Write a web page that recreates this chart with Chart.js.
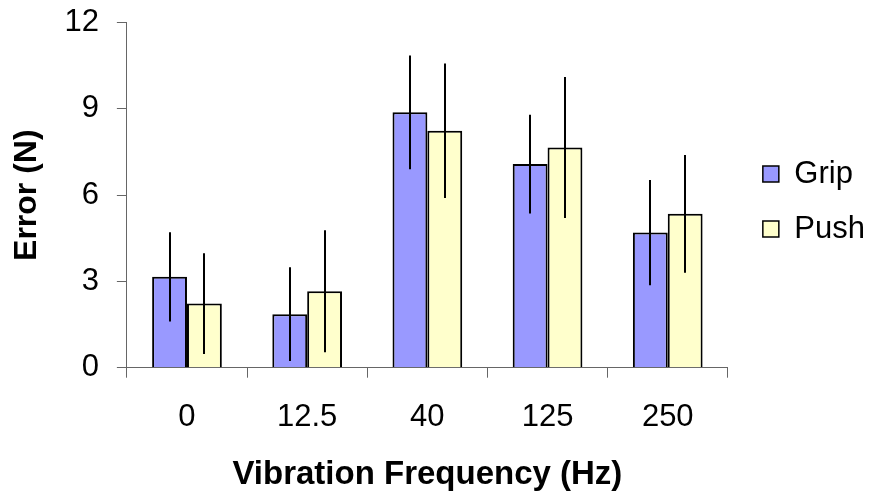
<!DOCTYPE html>
<html>
<head>
<meta charset="utf-8">
<script src="https://cdn.jsdelivr.net/npm/chart.js@4"></script>
<style>
  html, body { margin: 0; padding: 0; background: #fff; }
  #wrap { width: 869px; height: 493px; }
</style>
</head>
<body>
<div id="wrap"><canvas id="chart" width="869" height="493"></canvas></div>
<script>
const categories = ['0', '12.5', '40', '125', '250']
const gripValues = [3.16, 1.86, 8.88, 7.08, 4.70]
const gripErrors = [1.55, 1.63, 1.98, 1.72, 1.83]
const pushValues = [2.23, 2.66, 8.24, 7.66, 5.35]
const pushErrors = [1.75, 2.12, 2.34, 2.45, 2.05]
const yTicks = [0, 3, 6, 9, 12]

const FONT = 'Arial, "Liberation Sans", sans-serif'

// whiskers without caps, like the original
const errorBars = {
  id: 'errorBars',
  afterDatasetsDraw(chart) {
    const { ctx } = chart
    const y = chart.scales.y
    ctx.save()
    ctx.strokeStyle = '#000'
    ctx.lineWidth = 2
    chart.data.datasets.forEach((ds, i) => {
      const meta = chart.getDatasetMeta(i)
      meta.data.forEach((bar, j) => {
        const v = ds.data[j]
        const e = ds.errors[j]
        const x = Math.round(bar.x)
        ctx.beginPath()
        ctx.moveTo(x, y.getPixelForValue(v + e))
        ctx.lineTo(x, y.getPixelForValue(v - e))
        ctx.stroke()
      })
    })
    ctx.restore()
  },
}

// nudge the legend block to where the original sits
const legendNudge = {
  id: 'legendNudge',
  afterLayout(chart) {
    const lg = chart.legend
    const dx = 11
    const dy = -50
    lg.left += dx
    lg.right += dx
    lg.top += dy
    lg.bottom += dy
  },
}

new Chart(document.getElementById('chart'), {
  type: 'bar',
  data: {
    labels: categories,
    datasets: [
      {
        label: 'Grip',
        data: gripValues,
        errors: gripErrors,
        backgroundColor: '#9999ff',
        borderColor: '#000',
        borderWidth: 2,
      },
      {
        label: 'Push',
        data: pushValues,
        errors: pushErrors,
        backgroundColor: '#ffffcc',
        borderColor: '#000',
        borderWidth: 2,
      },
    ],
  },
  options: {
    responsive: false,
    animation: false,
    devicePixelRatio: 1,
    categoryPercentage: 0.58,
    barPercentage: 1.0,
    layout: { padding: { left: 0, top: 10, right: 5, bottom: 0 } },
    plugins: {
      tooltip: { enabled: false },
      legend: {
        position: 'right',
        align: 'center',
        labels: {
          color: '#000',
          font: { family: FONT, size: 31 },
          boxWidth: 16,
          boxHeight: 16,
          padding: 24,
          generateLabels(chart) {
            return chart.data.datasets.map((ds, i) => ({
              text: ds.label,
              fillStyle: ds.backgroundColor,
              strokeStyle: '#000',
              lineWidth: 1.5,
              datasetIndex: i,
            }))
          },
        },
      },
    },
    scales: {
      x: {
        offset: true,
        grid: {
          display: true,
          drawOnChartArea: false,
          offset: true,
          tickLength: 10,
          color: '#666',
        },
        border: { color: '#666', width: 1 },
        ticks: {
          color: '#000',
          font: { family: FONT, size: 31, lineHeight: 1.0 },
          padding: 24,
        },
        title: {
          display: true,
          text: 'Vibration Frequency (Hz)',
          color: '#000',
          font: { family: FONT, size: 33, weight: 'bold', lineHeight: 1.1 },
          padding: { top: 0, bottom: 0 },
        },
      },
      y: {
        min: 0,
        max: 12,
        afterBuildTicks(axis) {
          axis.ticks = yTicks.map((v) => ({ value: v }))
        },
        grid: {
          display: true,
          drawOnChartArea: false,
          tickLength: 10,
          color: '#666',
        },
        border: { color: '#666', width: 1 },
        ticks: {
          color: '#000',
          font: { family: FONT, size: 31, lineHeight: 0.3 },
          padding: 18,
        },
        title: {
          display: true,
          text: 'Error (N)',
          color: '#000',
          font: { family: FONT, size: 32, weight: 'bold' },
          padding: { top: 8, bottom: 0 },
        },
      },
    },
  },
  plugins: [errorBars, legendNudge],
})
</script>
</body>
</html>
